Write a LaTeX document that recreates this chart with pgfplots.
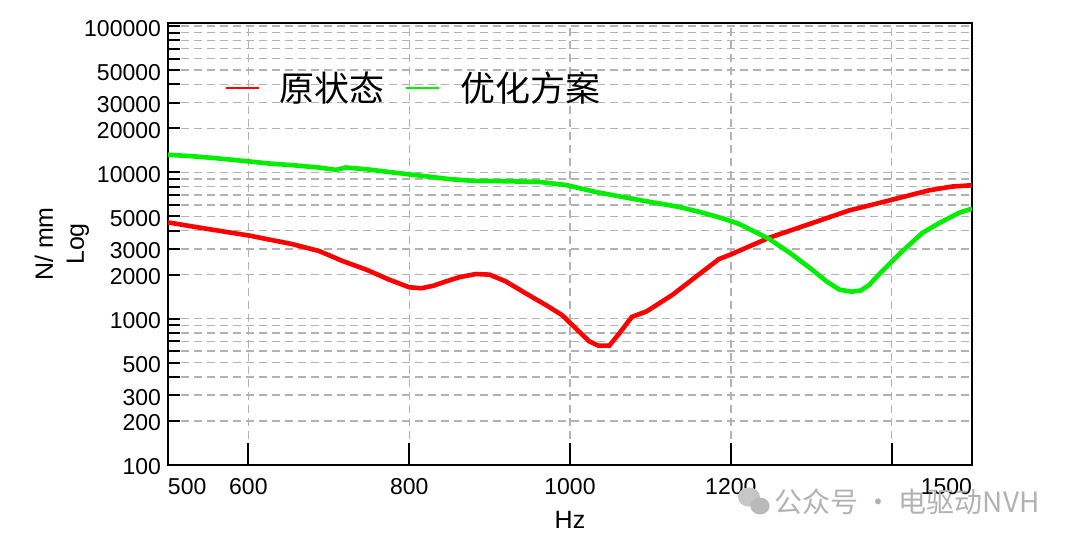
\documentclass[border=0pt]{standalone}
\usepackage{pgfplots}
\pgfplotsset{compat=1.18}
\usepackage{fontspec}
\setmainfont{Liberation Sans}
\newfontfamily\cjk{Noto Sans CJK SC}
\definecolor{cred}{RGB}{255,0,0}
\definecolor{cgreen}{RGB}{0,238,0}
\definecolor{gridgray}{RGB}{178,178,178}
\begin{document}
\begin{tikzpicture}
\path[use as bounding box] (-84pt,-40.5pt) rectangle (456pt,232.5pt);
\begin{axis}[
  at={(0,0)}, anchor=south west,
  scale only axis, width=402pt, height=221pt,
  xmin=500, xmax=1500,
  ymode=log, ymin=100, ymax=105000,
  axis line style={line width=1pt},
  tick align=inside,
  xtick pos=lower, ytick pos=left,
  xtick={600,800,1000,1200,1400},
  xticklabels={600,800,1000,1200,{}},
  extra x ticks={500,1500},
  extra x tick labels={\makebox[0pt][l]{500},\makebox[0pt][r]{1500}},
  extra x tick style={grid=none, /pgfplots/major tick length=0pt},
  xtick style={/pgfplots/major tick length=11pt, line width=1pt, black},
  ytick={100,200,300,500,1000,2000,3000,5000,10000,20000,30000,50000,100000},
  yticklabels={100,200,300,500,1000,2000,3000,5000,10000,20000,30000,50000,100000},
  minor ytick={400,600,700,800,900,4000,6000,7000,8000,9000,40000,60000,70000,80000,90000},
  extra y ticks={1000,10000},
  extra y tick labels={},
  extra y tick style={grid=none, /pgfplots/major tick length=12pt},
  ytick style={/pgfplots/major tick length=6pt, line width=1pt, black},
  minor tick length=6pt,
  minor tick style={line width=1pt, black},
  grid=both,
  grid style={gridgray, line width=0.7pt, dash pattern=on 4pt off 2.5pt},
  major grid style={gridgray, line width=0.7pt, dash pattern=on 4pt off 2.5pt},
  minor grid style={gridgray, line width=0.7pt, dash pattern=on 4pt off 2.5pt},
  ticklabel style={font=\fontsize{11.5}{13}\selectfont, text=black},
  xticklabel style={yshift=-3pt},
  yticklabel style={yshift=-1pt},
  xlabel={Hz},
  ylabel={N/ mm\\Log},
  label style={font=\fontsize{12.5}{15.5}\selectfont},
  xlabel style={at={(axis description cs:0.5,0)}, anchor=center, yshift=-27.5pt},
  ylabel style={at={(axis description cs:-0.132,0.5)}, anchor=center, align=center},
  legend columns=-1,
  legend style={draw=none, fill=none, at={(axis description cs:0.0625,0.853)}, anchor=west,
    font=\cjk\fontsize{17.5}{20}\selectfont, text=black,
    /tikz/every odd column/.append style={column sep=8pt},
    /tikz/every even column/.append style={column sep=8.5pt},
    cells={anchor=west}},
  legend image code/.code={\draw[#1, line width=0.9pt] (0pt,0pt) -- (16.5pt,0pt);},
]
\addplot[cred, line width=2.3pt] coordinates {
(500,4550) (550,4100) (601,3700) (655,3230) (688,2900) (717,2480) (747,2160)
(775,1850) (800,1640) (815,1615) (830,1680) (846,1800) (862,1920) (883,2020)
(900,2000) (920,1800) (945,1490) (970,1240) (990,1060) (1007,860) (1024,700)
(1035,655) (1049,655) (1061,790) (1077,1030) (1095,1120) (1127,1450) (1161,2020)
(1185,2550) (1200,2750) (1248,3580) (1298,4440) (1347,5490) (1397,6430)
(1447,7550) (1475,8000) (1500,8170)
};
\addlegendentry{原状态}
\addplot[cgreen, line width=2.3pt] coordinates {
(500,13200) (530,12900) (560,12500) (593,12000) (626,11500) (655,11200)
(688,10800) (709,10400) (721,10800) (747,10500) (779,10000) (821,9400)
(850,9000) (879,8750) (920,8700) (962,8600) (995,8200) (1032,7350)
(1065,6800) (1102,6250) (1136,5800) (1165,5300) (1190,4850) (1210,4450)
(1223,4100) (1248,3500) (1273,2830) (1298,2230) (1319,1800) (1335,1580)
(1350,1530) (1362,1560) (1372,1700) (1384,2000) (1409,2750) (1438,3850)
(1459,4500) (1484,5300) (1500,5650)
};
\addlegendentry{优化方案}
\end{axis}
\fill[gray!45] (290.5pt,-16pt) ellipse (5.5pt and 4.8pt);
\fill[gray!55] (296pt,-20.5pt) ellipse (4.8pt and 4.2pt);
\node[anchor=west, text=gray!60, font=\cjk\fontsize{14}{16}\selectfont, inner sep=0pt] at (303pt,-18.5pt) {公众号 · 电驱动NVH};
\end{tikzpicture}
\end{document}
